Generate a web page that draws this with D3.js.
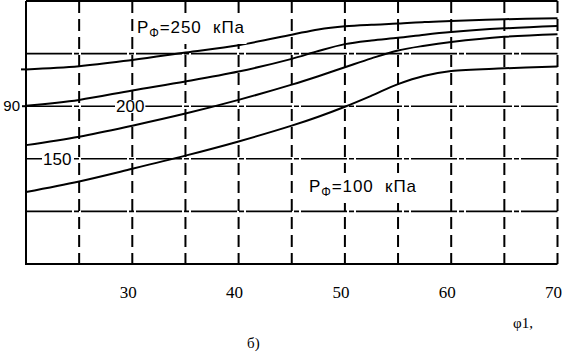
<!DOCTYPE html>
<html lang="ru"><head>
<meta charset="utf-8">
<title>chart</title>
<script src="https://cdn.jsdelivr.net/npm/d3@7/dist/d3.min.js"></script>
<style>
body { margin: 0; background: #fff; }
svg { display: block; }
</style>
</head>
<body>
<script type="text/javascript">

var width = 565;
var height = 353;

// x values (φ1) for every curve
var phi = [20, 25, 30, 35, 40, 45, 47.5, 50, 52.5, 55, 57.5, 60, 65, 70];

var p250 = [93.5, 93.8, 94.4, 95.1, 95.8, 96.8, 97.3, 97.6, 97.75, 97.85, 98.0, 98.1, 98.27, 98.35];
var p200 = [90.05, 90.6, 91.5, 92.35, 93.3, 94.5, 95.25, 95.9, 96.25, 96.5, 96.8, 97.05, 97.4, 97.63];
var p150 = [86.3, 87.1, 88.15, 89.3, 90.6, 92.05, 92.85, 93.7, 94.55, 95.3, 95.75, 96.1, 96.6, 96.85];
var p100 = [81.85, 82.85, 84.05, 85.3, 86.65, 88.15, 89.0, 89.95, 91.0, 92.1, 92.9, 93.35, 93.6, 93.78];

var xTicks = [30, 40, 50, 60, 70];
var xGrid = [25, 30, 35, 40, 45, 50, 55, 60, 65, 70];
var yGrid = [80, 85, 90, 95];
var yTicks = [90];

var svg = d3.select("body").append("svg")
    .attr("width", width)
    .attr("height", height);

var x = d3.scaleLinear().domain([20, 70]).range([26, 557.5]);
var y = d3.scaleLinear().domain([75, 100]).range([264, 1]);

// horizontal grid (long dashes)
svg.selectAll(".hgrid")
    .data(yGrid)
    .enter()
    .append("line")
    .attr("class", "hgrid")
    .attr("x1", x(20)).attr("x2", x(70))
    .attr("y1", d => y(d)).attr("y2", d => y(d))
    .attr("stroke", "#000")
    .attr("stroke-width", 1.6)
    .attr("stroke-dasharray", "46,2,5,2");

// vertical grid (dashed)
svg.selectAll(".vgrid")
    .data(xGrid)
    .enter()
    .append("line")
    .attr("class", "vgrid")
    .attr("x1", d => x(d)).attr("x2", d => x(d))
    .attr("y1", y(100)).attr("y2", y(75))
    .attr("stroke", "#000")
    .attr("stroke-width", 2)
    .attr("stroke-dasharray", "12,6");

// frame: left axis, bottom axis, top border
svg.append("path")
    .attr("d", "M" + x(20) + "," + y(100) + "V" + y(75) + "H" + x(70))
    .attr("fill", "none")
    .attr("stroke", "#000")
    .attr("stroke-width", 2);
svg.append("line")
    .attr("x1", x(20)).attr("x2", x(70))
    .attr("y1", y(100)).attr("y2", y(100))
    .attr("stroke", "#000")
    .attr("stroke-width", 2);

// curves
var line = d3.line()
    .x((d, i) => x(phi[i]))
    .y(d => y(d))
    .curve(d3.curveCatmullRom.alpha(0.5));

svg.selectAll(".curve")
    .data([p250, p200, p150, p100])
    .enter()
    .append("path")
    .attr("class", "curve")
    .attr("d", line)
    .attr("fill", "none")
    .attr("stroke", "#000")
    .attr("stroke-width", 2);

// small stub left of the axis at the top curve's start
svg.append("line")
    .attr("x1", x(20) - 5).attr("x2", x(20))
    .attr("y1", y(p250[0])).attr("y2", y(p250[0]))
    .attr("stroke", "#000").attr("stroke-width", 2);

// y tick label
svg.selectAll(".ytick")
    .data(yTicks)
    .enter()
    .append("text")
    .attr("x", 20)
    .attr("y", d => y(d) + 5)
    .attr("text-anchor", "end")
    .attr("font-family", "Liberation Sans, Arial, sans-serif")
    .attr("font-size", 15)
    .text(d => d);
svg.append("line")
    .attr("x1", x(20) - 4).attr("x2", x(20))
    .attr("y1", y(90)).attr("y2", y(90))
    .attr("stroke", "#000").attr("stroke-width", 2);

// x tick labels
svg.selectAll(".xtick")
    .data(xTicks)
    .enter()
    .append("text")
    .attr("x", d => x(d) - 4)
    .attr("y", 298)
    .attr("text-anchor", "middle")
    .attr("font-family", "Liberation Serif, serif")
    .attr("font-size", 17)
    .text(d => d);

// white box behind a text element
function backBox(t, padX, padY) {
    var b = t.node().getBBox();
    svg.insert("rect", "text")
        .attr("x", b.x - padX).attr("y", b.y + padY)
        .attr("width", b.width + 2 * padX).attr("height", b.height - 2 * padY)
        .attr("fill", "#fff");
}

function numLabel(tx, ty, txt) {
    var t = svg.append("text")
        .attr("x", tx).attr("y", ty)
        .attr("font-family", "Liberation Sans, Arial, sans-serif")
        .attr("font-size", 17)
        .text(txt);
    backBox(t, 1, 3);
}
numLabel(116, 112, "200");
numLabel(43, 165, "150");

function pLabel(tx, ty, val) {
    var t = svg.append("text")
        .attr("x", tx).attr("y", ty)
        .attr("font-family", "Liberation Sans, Arial, sans-serif")
        .attr("font-size", 17)
        .style("white-space", "pre")
        .attr("textLength", 107)
        .attr("lengthAdjust", "spacing");
    t.append("tspan").text("P");
    t.append("tspan").attr("dy", 4).attr("font-size", 12).text("Φ");
    t.append("tspan").attr("dy", -4).text("=" + val + "  кПа");
    backBox(t, 2, -4);
}
pLabel(137, 33, 250);
pLabel(309, 192, 100);

// axis name and caption
svg.append("text")
    .attr("x", 513).attr("y", 328)
    .attr("font-family", "Liberation Serif, serif")
    .attr("font-size", 15)
    .text("φ1,");

svg.append("text")
    .attr("x", 247).attr("y", 348)
    .attr("font-family", "Liberation Serif, serif")
    .attr("font-size", 15)
    .text("б)");

</script>
</body></html>
